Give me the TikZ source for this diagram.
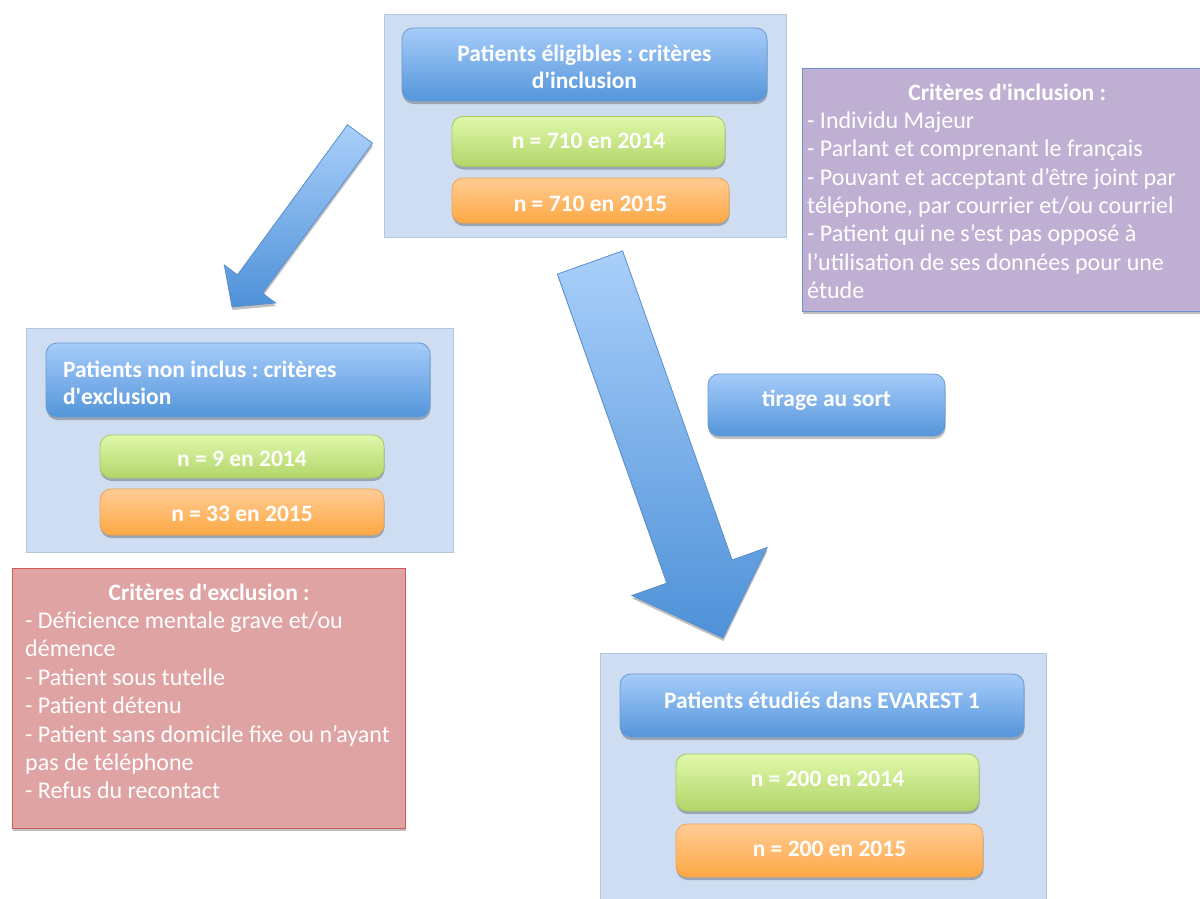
\documentclass[tikz,border=0pt]{standalone}
\usepackage{fontspec}
\setmainfont{Carlito}
\usetikzlibrary{shadows}
\definecolor{panelfill}{HTML}{CEDDF1}
\definecolor{panelborder}{HTML}{B3C6DF}
\definecolor{bluetop}{HTML}{A6CCFA}
\definecolor{bluebot}{HTML}{5495DA}
\definecolor{blueborder}{HTML}{6B9AD0}
\definecolor{greentop}{HTML}{E0F8AA}
\definecolor{greenbot}{HTML}{B2D56A}
\definecolor{greenborder}{HTML}{A7C964}
\definecolor{orangetop}{HTML}{FFCC95}
\definecolor{orangebot}{HTML}{FDA844}
\definecolor{orangeborder}{HTML}{F2A24E}
\definecolor{purplefill}{HTML}{BFB0D3}
\definecolor{purpleborder}{HTML}{6A93C9}
\definecolor{redfill}{HTML}{E0A3A3}
\definecolor{redborder}{HTML}{CF5A5A}
\definecolor{arrowtop}{HTML}{AACFFA}
\definecolor{arrowbot}{HTML}{4E91D8}
\definecolor{arrowborder}{HTML}{5A8FCC}
\tikzset{
  shade/.style={drop shadow={shadow xshift=0.5pt, shadow yshift=-3pt, opacity=0.25, fill=black}},
  panel/.style={fill=panelfill, draw=panelborder, line width=0.8pt, inner sep=0pt},
  boxbase/.style={rounded corners=11pt, line width=0.8pt, shade, text=white, inner sep=0pt,
    font=\bfseries\fontsize{23.5}{27}\selectfont, align=center},
  titlebox/.style={boxbase, top color=bluetop, bottom color=bluebot, draw=blueborder},
  greenbox/.style={boxbase, top color=greentop, bottom color=greenbot, draw=greenborder},
  orangebox/.style={boxbase, top color=orangetop, bottom color=orangebot, draw=orangeborder},
  bl/.style={text depth=0pt, text height=#1},
  notebox/.style={line width=0.8pt, shade, inner sep=0pt},
  notetext/.style={anchor=base west, inner sep=0pt, align=flush left, text=white,
    font=\fontsize{24}{28.4}\selectfont},
  blockarrow/.style={top color=arrowtop, bottom color=arrowbot, draw=arrowborder, line width=0.8pt, shade},
}
\begin{document}
\frenchspacing
\begin{tikzpicture}[x=1pt,y=-1pt]
\useasboundingbox (0,0) rectangle (1200,899);
% panels
\node[panel, minimum width=402pt, minimum height=223pt] (p1) at (585,125.5) {};
\node[panel, minimum width=427pt, minimum height=224pt] (p2) at (239.5,440) {};
\node[panel, minimum width=446pt, minimum height=262pt] (p3) at (823,784) {};
% top panel
\node[titlebox, minimum width=365pt, minimum height=73pt] (t1) at (584.5,64.5) {\rule{0pt}{22pt}Patients éligibles : critères\\d\textquotesingle inclusion};
\node[greenbox, bl=13pt, minimum width=273pt, minimum height=50pt] (g1) at (588.5,141.5) {n = 710 en 2014};
\node[orangebox, bl=22pt, minimum width=277pt, minimum height=45pt] (o1) at (590.5,200.5) {n = 710 en 2015};
% left panel
\node[titlebox, minimum width=384pt, minimum height=74pt, text width=350pt, align=flush left] (t2) at (238,380) {\rule{0pt}{23pt}Patients non inclus : critères\\d\textquotesingle exclusion};
\node[greenbox, bl=20pt, minimum width=284pt, minimum height=43pt] (g2) at (242,456.5) {n = 9 en 2014};
\node[orangebox, bl=19.4pt, minimum width=284pt, minimum height=46pt] (o2) at (242,512) {n = 33 en 2015};
% bottom panel
\node[titlebox, bl=5pt, minimum width=404pt, minimum height=63pt] (t3) at (822,705.5) {Patients étudiés dans EVAREST 1};
\node[greenbox, bl=8pt, minimum width=303pt, minimum height=57pt] (g3) at (827.5,782.5) {n = 200 en 2014};
\node[orangebox, bl=12pt, minimum width=307pt, minimum height=53pt] (o3) at (829.5,850.5) {n = 200 en 2015};
% tirage
\node[titlebox, bl=3.4pt, minimum width=237pt, minimum height=62pt] (ts) at (826.5,405) {tirage au sort};
% purple note
\node[notebox, fill=purplefill, draw=purpleborder, minimum width=406pt, minimum height=243pt] (pn) at (1005,189.5) {};
\node[notetext, text width=400pt] (pnt) at (807,100) {\makebox[400pt][c]{\bfseries\fontsize{23.5}{27}\selectfont Critères d\textquotesingle inclusion :}\\
- Individu Majeur\\
- Parlant et comprenant le français\\
- Pouvant et acceptant d’être joint par\\
téléphone, par courrier et/ou courriel\\
- Patient qui ne s’est pas opposé à\\
l’utilisation de ses données pour une\\
étude};
% red note
\node[notebox, fill=redfill, draw=redborder, minimum width=393pt, minimum height=260pt] (rn) at (208.5,698) {};
\node[notetext, text width=380pt] (rnt) at (25,600) {\makebox[368pt][c]{\bfseries\fontsize{23.5}{27}\selectfont Critères d\textquotesingle exclusion :}\\
- Déficience mentale grave et/ou\\
démence\\
- Patient sous tutelle\\
- Patient détenu\\
- Patient sans domicile fixe ou n’ayant\\
pas de téléphone\\
- Refus du recontact};
% block arrows
\draw[blockarrow] (347.5,124.8) -- (372.5,143.2) -- (262.5,293.2) -- (275.7,303) -- (232,307) -- (224.3,265) -- (237.5,274.8) -- cycle;
\draw[blockarrow] (557.4,274.1) -- (622.6,250.9) -- (732.1,559.9) -- (767.2,547.5) -- (723,638) -- (631.8,595.5) -- (666.9,583.1) -- cycle;
\end{tikzpicture}
\end{document}
